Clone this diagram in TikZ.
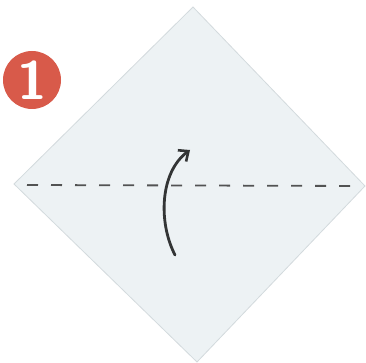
\documentclass[tikz,border=0pt]{standalone}
\usetikzlibrary{arrows.meta}
\definecolor{paper}{HTML}{EDF2F4}
\definecolor{paperedge}{HTML}{D3DADD}
\definecolor{badge}{HTML}{D85A4A}
\definecolor{ink}{HTML}{333535}
\tikzset{
  sheet/.style={fill=paper, draw=paperedge, line width=0.8pt, line join=miter},
  foldline/.style={draw=ink!85, line width=1.8pt, dash pattern=on 11pt off 13pt},
  foldarrow/.style={draw=ink, line width=2.8pt, line cap=round, -{Straight Barb[length=8pt,width=14pt,line width=2.6pt]}},
  badgecircle/.style={circle, fill=badge, minimum size=58pt, inner sep=0pt, text=white, font=\sffamily\bfseries\fontsize{54}{54}\selectfont}
}
\begin{document}
\begin{tikzpicture}[x=1pt,y=-1pt]
\useasboundingbox (0,0) rectangle (366,363);
\coordinate (T) at (193,7);
\coordinate (L) at (14,184);
\coordinate (R) at (365,186);
\coordinate (B) at (197,362);
\draw[sheet] (T) -- (R) -- (B) -- (L) -- cycle;
\coordinate (d1) at (27,185);
\coordinate (d2) at (360,186);
\draw[foldline] (d1) -- (d2);
\coordinate (a1) at (175,255);
\coordinate (a2) at (190,150);
\draw[foldarrow] (a1) .. controls (158,222) and (160,172) .. (a2);
\node[badgecircle] (n1) at (32,80) {1};
\end{tikzpicture}
\end{document}
